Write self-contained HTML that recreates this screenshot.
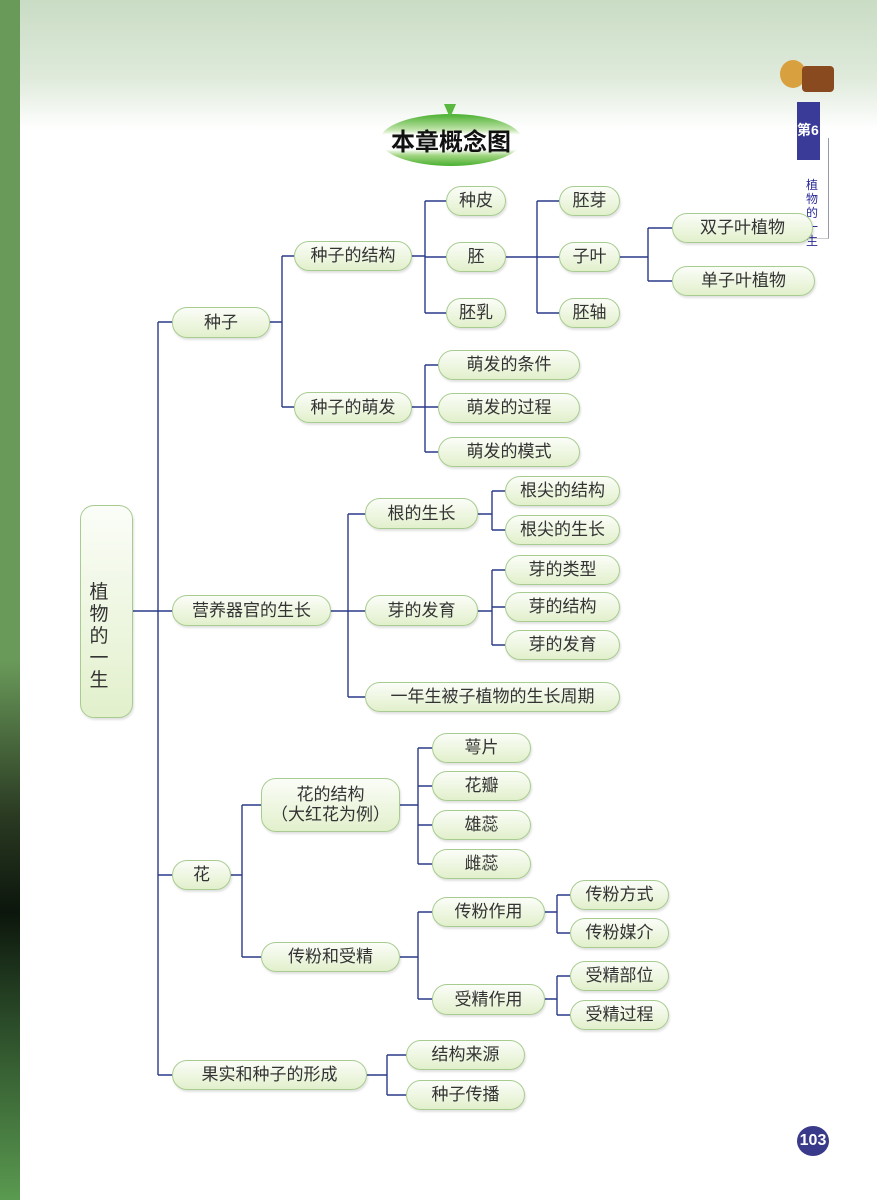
<!DOCTYPE html>
<html><head><meta charset="utf-8"><style>
body{margin:0;width:877px;height:1200px;position:relative;overflow:hidden;background:#fff;font-family:"Liberation Sans","Noto Sans CJK SC",sans-serif;}
.bg{position:absolute;left:0;top:0;width:877px;height:130px;background:linear-gradient(#c9dcc4,#dfeadb 60%,#fff);}
.strip{position:absolute;left:0;top:0;width:20px;height:1200px;background:linear-gradient(#6a9a5a 0,#6a9a5a 55%,#2a3a22 68%,#0c160c 76%,#2a4a28 85%,#5a9a50 100%);}
.n{position:absolute;box-sizing:border-box;border:1.5px solid #a8cc90;border-radius:15px;background:linear-gradient(#fbfdf8,#e2f0cc);display:flex;align-items:center;justify-content:center;font-size:17px;color:#333;box-shadow:1px 2px 2px rgba(0,0,0,.12);line-height:1.15;text-align:center}
svg{position:absolute;left:0;top:0}
</style></head><body>
<div class="bg"></div><div class="strip"></div>
<div style="position:absolute;left:380px;top:114px;width:142px;height:52px;border-radius:50%;background:linear-gradient(#4ab030,#bfe3a8 30%,#fff 40%,#fff 68%,#9fd480 80%,#4ab030)"></div>
<div style="position:absolute;left:444px;top:104px;width:0;height:0;border-left:6px solid transparent;border-right:6px solid transparent;border-top:14px solid #5ab840"></div>
<div style="position:absolute;left:380px;top:122px;width:142px;text-align:center;font-size:24px;font-weight:bold;color:#111">本章概念图</div>
<div style="position:absolute;left:797px;top:102px;width:23px;height:58px;background:#3a3a98;color:#fff;font-size:14px;font-weight:bold;padding-top:18px;box-sizing:border-box">第6</div>
<div style="position:absolute;left:797px;top:138px;width:31px;height:100px;border-right:1px solid #99a;border-bottom:1px solid #ccc"></div>
<div style="position:absolute;left:806px;top:178px;width:14px;font-size:12px;color:#2a2a98;line-height:14px">植物的一生</div>
<div style="position:absolute;left:780px;top:42px;width:60px;height:50px;"><div style="position:absolute;left:0;top:18px;width:26px;height:28px;border-radius:50%;background:#d9a040"></div><div style="position:absolute;left:22px;top:24px;width:32px;height:26px;background:#8a4a20;border-radius:4px"></div></div>
<div style="position:absolute;left:797px;top:1126px;width:32px;height:30px;border-radius:50%;background:#3a3a8a;color:#fff;font-size:16px;font-weight:bold;display:flex;align-items:center;justify-content:center">103</div>
<svg width="877" height="1200" fill="none" stroke="#2a3a8a" stroke-width="1.4">
<path d="M133 611H158M158 322V1075M158 322H172M158 611H172M158 875H172M158 1075H172"/>
<path d="M270 322H282M282 256V407M282 256H294M282 407H294"/>
<path d="M412 256H425M425 201V313M425 201H446M425 257H446M425 313H446"/>
<path d="M506 257H537M537 201V313M537 201H559M537 257H559M537 313H559"/>
<path d="M620 257H648M648 228V281M648 228H672M648 281H672"/>
<path d="M412 407H425M425 365V452M425 365H438M425 407H438M425 452H438"/>
<path d="M331 611H348M348 514V697M348 514H365M348 611H365M348 697H365"/>
<path d="M478 514H492M492 491V530M492 491H505M492 530H505"/>
<path d="M478 611H492M492 570V645M492 570H505M492 607H505M492 645H505"/>
<path d="M231 875H242M242 805V957M242 805H261M242 957H261"/>
<path d="M400 805H418M418 748V864M418 748H432M418 786H432M418 825H432M418 864H432"/>
<path d="M400 957H418M418 912V999M418 912H432M418 999H432"/>
<path d="M545 912H557M557 895V933M557 895H570M557 933H570"/>
<path d="M545 999H557M557 976V1015M557 976H570M557 1015H570"/>
<path d="M367 1075H387M387 1055V1095M387 1055H406M387 1095H406"/>
</svg>
<div class="n" style="left:80px;top:505px;width:53px;height:213px;border-radius:14px"></div>
<div style="position:absolute;left:88px;top:582px;width:22px;font-size:19px;line-height:22px;color:#333;text-align:center">植<br>物<br>的<br>一<br>生</div>
<div class="n" style="left:172px;top:307px;width:98px;height:31px">种子</div>
<div class="n" style="left:294px;top:241px;width:118px;height:30px">种子的结构</div>
<div class="n" style="left:446px;top:186px;width:60px;height:30px">种皮</div>
<div class="n" style="left:446px;top:242px;width:60px;height:30px">胚</div>
<div class="n" style="left:446px;top:298px;width:60px;height:30px">胚乳</div>
<div class="n" style="left:559px;top:186px;width:61px;height:30px">胚芽</div>
<div class="n" style="left:559px;top:242px;width:61px;height:30px">子叶</div>
<div class="n" style="left:559px;top:298px;width:61px;height:30px">胚轴</div>
<div class="n" style="left:672px;top:213px;width:141px;height:30px">双子叶植物</div>
<div class="n" style="left:672px;top:266px;width:143px;height:30px">单子叶植物</div>
<div class="n" style="left:294px;top:392px;width:118px;height:31px">种子的萌发</div>
<div class="n" style="left:438px;top:350px;width:142px;height:30px">萌发的条件</div>
<div class="n" style="left:438px;top:393px;width:142px;height:30px">萌发的过程</div>
<div class="n" style="left:438px;top:437px;width:142px;height:30px">萌发的模式</div>
<div class="n" style="left:172px;top:595px;width:159px;height:31px">营养器官的生长</div>
<div class="n" style="left:365px;top:498px;width:113px;height:31px">根的生长</div>
<div class="n" style="left:505px;top:476px;width:115px;height:30px">根尖的结构</div>
<div class="n" style="left:505px;top:515px;width:115px;height:30px">根尖的生长</div>
<div class="n" style="left:365px;top:595px;width:113px;height:31px">芽的发育</div>
<div class="n" style="left:505px;top:555px;width:115px;height:30px">芽的类型</div>
<div class="n" style="left:505px;top:592px;width:115px;height:30px">芽的结构</div>
<div class="n" style="left:505px;top:630px;width:115px;height:30px">芽的发育</div>
<div class="n" style="left:365px;top:682px;width:255px;height:30px">一年生被子植物的生长周期</div>
<div class="n" style="left:172px;top:860px;width:59px;height:30px">花</div>
<div class="n" style="left:261px;top:778px;width:139px;height:54px">花的结构<br>（大红花为例）</div>
<div class="n" style="left:432px;top:733px;width:99px;height:30px">萼片</div>
<div class="n" style="left:432px;top:771px;width:99px;height:30px">花瓣</div>
<div class="n" style="left:432px;top:810px;width:99px;height:30px">雄蕊</div>
<div class="n" style="left:432px;top:849px;width:99px;height:30px">雌蕊</div>
<div class="n" style="left:261px;top:942px;width:139px;height:30px">传粉和受精</div>
<div class="n" style="left:432px;top:897px;width:113px;height:30px">传粉作用</div>
<div class="n" style="left:570px;top:880px;width:99px;height:30px">传粉方式</div>
<div class="n" style="left:570px;top:918px;width:99px;height:30px">传粉媒介</div>
<div class="n" style="left:432px;top:984px;width:113px;height:31px">受精作用</div>
<div class="n" style="left:570px;top:961px;width:99px;height:30px">受精部位</div>
<div class="n" style="left:570px;top:1000px;width:99px;height:30px">受精过程</div>
<div class="n" style="left:172px;top:1060px;width:195px;height:30px">果实和种子的形成</div>
<div class="n" style="left:406px;top:1040px;width:119px;height:30px">结构来源</div>
<div class="n" style="left:406px;top:1080px;width:119px;height:30px">种子传播</div>
</body></html>
